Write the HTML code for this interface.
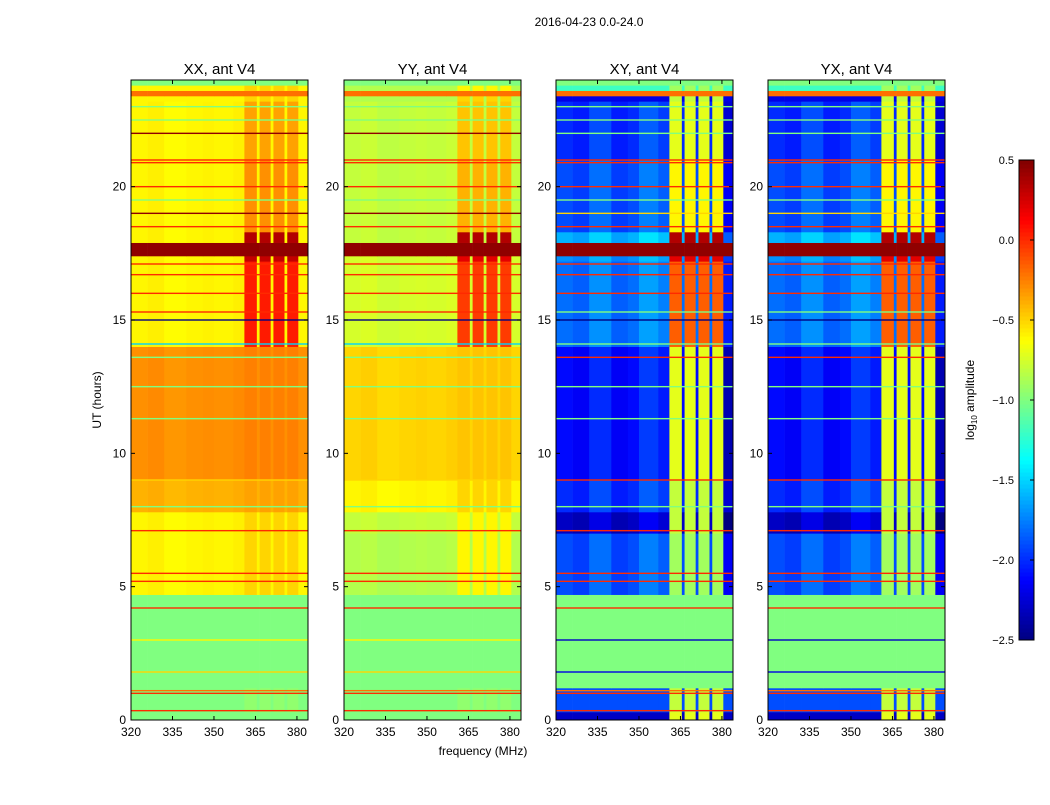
<!DOCTYPE html>
<html><head><meta charset="utf-8"><style>
body{margin:0;background:#fff;width:1050px;height:800px;overflow:hidden;font-family:"Liberation Sans",sans-serif}
svg text{font-family:"Liberation Sans",sans-serif}
</style></head><body>
<svg id="fig" width="1050" height="800" xmlns="http://www.w3.org/2000/svg">
<text x="589" y="26" font-size="12" text-anchor="middle">2016-04-23 0.0-24.0</text>
<text x="483" y="755" font-size="12" text-anchor="middle">frequency (MHz)</text>
<text transform="translate(101,400) rotate(-90)" font-size="12" text-anchor="middle">UT (hours)</text>
<text transform="translate(974,400) rotate(-90)" font-size="12" text-anchor="middle">log<tspan font-size="8" dy="3">10</tspan><tspan dy="-3"> amplitude</tspan></text>
</svg>
<script>
// ---- data ----
const hourEdges = [0,0.3,1.2,4.7,7.0,7.8,9.0,14.0,17.2,17.4,17.9,18.3,21.0,23.2,23.4,23.6,23.8,24];
const xxBase = [-1.0,-1.0,-1.0,-0.6,-0.6,-0.4,-0.3,-0.6,-0.6,0.45,-0.6,-0.6,-0.6,-0.6,-0.2,-0.6,-1.0];
const xxRfi  = [-1.0,-0.95,-1.0,-0.5,-0.5,-0.35,-0.25,0.05,0.3,0.45,0.35,-0.3,-0.35,-0.5,-0.2,-0.5,-1.0];
const yyBase = [-1.0,-1.0,-1.0,-0.85,-0.8,-0.6,-0.5,-0.75,-0.75,0.45,-0.8,-0.8,-0.8,-0.85,-0.2,-0.85,-1.0];
const yyRfi  = [-1.0,-0.95,-1.0,-0.6,-0.6,-0.5,-0.45,-0.05,0.2,0.45,0.35,-0.4,-0.45,-0.5,-0.2,-0.6,-1.0];
const xyBase = [-2.3,-1.9,-1.0,-1.9,-2.3,-2.0,-2.1,-1.8,-1.7,0.45,-1.6,-1.9,-2.0,-2.2,-0.2,-1.2,-1.0];
const xyRfi  = [-0.7,-0.8,-1.0,-0.9,-0.8,-0.8,-0.7,-0.15,0.2,0.45,0.35,-0.6,-0.7,-0.8,-0.2,-0.9,-1.0];
const freqEdges = [320,326,332,340,346,350,357,361,365.5,366.5,370.5,371.5,375.5,376.5,380.5,384];
const freqIsRfi = [0,0,0,0,0,0,0,1,0,1,0,1,0,1,0];
const xyProfile = [0,-0.05,0.1,-0.05,0,0.15,0.05,0,0,0,0,0,0,0,-0.25];
const xxProfile = [0,0.02,-0.02,0,0.01,0,0.02,0,0,0,0,0,0,0,0];
const flagHours = [0.35,1.0,1.1,1.8,3.0,4.2,5.2,5.5,7.1,8.0,9.0,11.3,12.5,13.6,14.1,15.0,15.3,16.0,16.7,17.1,18.5,19.0,19.5,20.0,20.9,21.0,22.0,22.5,23.0];
const flagXX = [0.0,0.0,-0.2,-0.5,-0.6,0.0,0.0,0.0,0.0,-1.0,-0.5,-1.0,-1.0,-1.0,-1.5,-2.6,0.0,0.0,0.0,0.0,0.0,0.45,-1.0,0.0,0.0,0.0,0.45,-1.0,-1.0];
const flagXY = [0.0,0.0,-0.2,-2.2,-2.3,0.0,0.0,0.0,0.0,-1.0,0.0,-1.0,-1.0,0.0,-1.0,-2.6,-1.0,0.0,0.0,0.0,0.0,-0.5,-1.0,0.0,0.0,0.0,-1.0,-1.0,-1.0];
const panelTitles = ["XX, ant V4","YY, ant V4","XY, ant V4","YX, ant V4"];
const xTicks = [320,335,350,365,380];
const yTicks = [0,5,10,15,20];
const cbTicks = [0.5,0.0,-0.5,-1.0,-1.5,-2.0,-2.5];
// ---- scales ----
const panelLeft=[131,344,556,768], PW=177, PT=80, PB=720, VMIN=-2.5, VMAX=0.5;
const xs=(p,f)=>panelLeft[p]+(f-320)*PW/64;
const ys=h=>PB-(h/24)*(PB-PT);
function jet(v){let t=(v-VMIN)/(VMAX-VMIN);t=Math.max(0,Math.min(1,t));
 const c=x=>Math.round(255*Math.max(0,Math.min(1,x)));
 const r=1.5-Math.abs(4*t-3),g=1.5-Math.abs(4*t-2),b=1.5-Math.abs(4*t-1);
 return `rgb(${c(r)},${c(g)},${c(b)})`;}
const NS="http://www.w3.org/2000/svg", svg=document.getElementById('fig');
function mk(tag,attrs,parent){const e=document.createElementNS(NS,tag);for(const k in attrs)e.setAttribute(k,attrs[k]);(parent||svg).appendChild(e);return e;}
const series=[[xxBase,xxRfi,xxProfile,flagXX],[yyBase,yyRfi,xxProfile,flagXX],[xyBase,xyRfi,xyProfile,flagXY],[xyBase,xyRfi,xyProfile,flagXY]];
for(let p=0;p<4;p++){
 const g=mk('g',{});
 
 
 const [base,rfi,prof,flags]=series[p];
 for(let i=0;i<hourEdges.length-1;i++){
  const y0=ys(hourEdges[i+1]),y1=ys(hourEdges[i]);
  const useProf = hourEdges[i]>=4.7 && hourEdges[i+1]<=23.3 && base[i]<0.4;
  for(let j=0;j<freqEdges.length-1;j++){
   const v=(freqIsRfi[j]?rfi[i]:base[i])+(useProf?prof[j]:0);
   const x0=xs(p,freqEdges[j]),x1=xs(p,Math.min(freqEdges[j+1],384));
   const r=mk('rect',{x:x0,y:y0,width:x1-x0+0.3,height:y1-y0+0.3,fill:jet(v)},g);
   
   
  }
 }
 for(let k=0;k<flagHours.length;k++){
  const l=mk('rect',{x:panelLeft[p],y:ys(flagHours[k])-0.7,width:PW,height:1.4,fill:jet(flags[k])},g);
  
  
 }
 const fr=mk('rect',{x:panelLeft[p],y:PT,width:PW,height:PB-PT,fill:'none',stroke:'#000','stroke-width':1});
 
 
 const tt=mk('text',{x:panelLeft[p]+PW/2,y:74,'font-size':15,'text-anchor':'middle'});
 tt.textContent=panelTitles[p];
 
 
 xTicks.forEach(f=>{const x=xs(p,f);
  mk('line',{x1:x,x2:x,y1:PB,y2:PB-4,stroke:'#000'});mk('line',{x1:x,x2:x,y1:PT,y2:PT+4,stroke:'#000'});
  const t=mk('text',{x:x,y:PB+16,'font-size':12,'text-anchor':'middle'});t.textContent=f;
  
  });
 yTicks.forEach(h=>{const y=ys(h);
  mk('line',{x1:panelLeft[p],x2:panelLeft[p]+4,y1:y,y2:y,stroke:'#000'});mk('line',{x1:panelLeft[p]+PW,x2:panelLeft[p]+PW-4,y1:y,y2:y,stroke:'#000'});
  const t=mk('text',{x:panelLeft[p]-5,y:y+4,'font-size':12,'text-anchor':'end'});t.textContent=h;
  
  });
}
// colorbar
const CB={x:1019,w:15,top:160,bot:640};
const cg=mk('g',{});


for(let i=0;i<120;i++){const v=VMIN+(i+0.5)*(VMAX-VMIN)/120;const y=CB.bot-(i+1)*(CB.bot-CB.top)/120;
 mk('rect',{x:CB.x,y:y,width:CB.w,height:(CB.bot-CB.top)/120+0.5,fill:jet(v)},cg);}
mk('rect',{x:CB.x,y:CB.top,width:CB.w,height:CB.bot-CB.top,fill:'none',stroke:'#000'},cg);
cbTicks.forEach(v=>{const y=CB.bot-(v-VMIN)/(VMAX-VMIN)*(CB.bot-CB.top);
 mk('line',{x1:CB.x+CB.w-4,x2:CB.x+CB.w,y1:y,y2:y,stroke:'#000'},cg);
 const t=mk('text',{x:CB.x-5,y:y+4,'font-size':11,'text-anchor':'end'},cg);t.textContent=(v<0?'\u2212':'')+Math.abs(v).toFixed(1);
 
 });
</script>
</body></html>
